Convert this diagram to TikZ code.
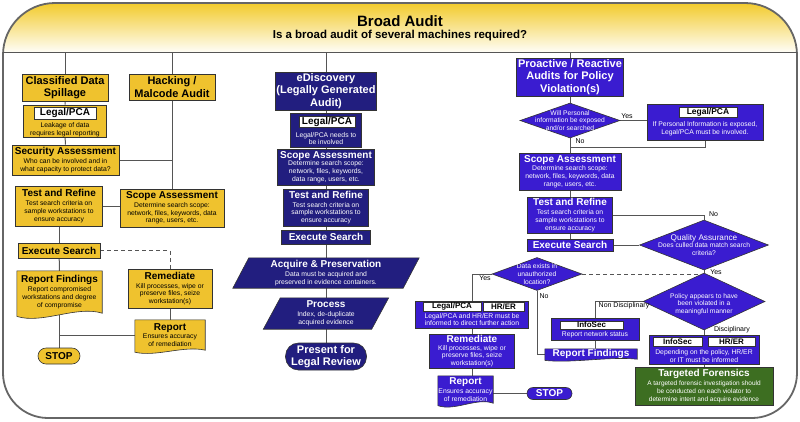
\documentclass[tikz,border=0pt]{standalone}
\usepackage{fontspec}
\setmainfont{Liberation Sans}
\usetikzlibrary{shapes.geometric, calc}
\definecolor{hdgold}{HTML}{F2CB2C}
\definecolor{spgold}{HTML}{EFC22E}
\definecolor{edblue}{HTML}{221E7F}
\definecolor{rpblue}{HTML}{3A1CD0}
\definecolor{tfgreen}{HTML}{3D6E21}
\definecolor{boxline}{HTML}{333333}
\definecolor{linkgray}{HTML}{555555}
\definecolor{framegray}{HTML}{666666}
\pgfdeclarelayer{links}
\pgfdeclarelayer{shapes}
\pgfsetlayers{links,shapes,main}

\newcommand{\ttl}[1]{{\fontsize{10}{11}\selectfont\bfseries #1}}
% document shape under a node: node, fill, wave depth
\newcommand{\docfill}[3]{%
  \filldraw[draw=boxline, line width=0.6pt, fill=#2] (#1.north west) -- (#1.north east) -- (#1.south east)
    .. controls ($(#1.south east)!0.3!(#1.south west)+(0,-#3)$) and ($(#1.south east)!0.7!(#1.south west)+(0,1.4*#3)$)
    .. ($(#1.south west)+(0,0.4*#3)$) -- cycle;}
% parallelogram under a node: node, slant, fill
\newcommand{\slantbox}[3]{%
  \filldraw[draw=boxline, line width=0.6pt, fill=#3] ($(#1.south west)+(-#2,0)$) -- ($(#1.south east)+(-#2,0)$)
    -- ($(#1.north east)+(#2,0)$) -- ($(#1.north west)+(#2,0)$) -- cycle;}

\begin{document}
\begin{tikzpicture}[x=1pt, y=-1pt,
  basebox/.style={draw=boxline, line width=0.6pt, align=center, inner sep=1pt},
  goldbox/.style={basebox, fill=spgold, text=black},
  navybox/.style={basebox, fill=edblue, text=white},
  bluebox/.style={basebox, fill=rpblue, text=white},
  greenbox/.style={basebox, fill=tfgreen, text=white},
  dia/.style={diamond, draw=boxline, line width=0.6pt, fill=rpblue, inner sep=0pt},
  dtext/.style={align=center, font=\fontsize{6.7}{7.6}\selectfont, text=white, inner sep=0pt},
  tag/.style={draw=boxline, line width=0.5pt, fill=white, text=black, inner sep=0pt,
    font=\bfseries\fontsize{#1}{12}\selectfont},
  sm/.style={align=center, font=\fontsize{6.8}{7.8}\selectfont},
  desc/.style={sm, inner sep=0pt},
  head/.style={font=\bfseries\fontsize{11}{12.3}\selectfont},
  ttlfont/.style={font=\bfseries\fontsize{10}{11}\selectfont},
  term/.style={rounded corners=#1},
  link/.style={draw=linkgray, line width=1pt},
  lbl/.style={font=\fontsize{7}{8}\selectfont, inner sep=1pt}]

\useasboundingbox (0,0) rectangle (800,421);

% Header band
\begin{pgfonlayer}{links}
\begin{scope}
  \clip (3,200) [rounded corners=52pt] -- (3,3) -- (797,3) -- (797,200) -- cycle;
  \shade[top color=hdgold, bottom color=hdgold!4] (3,3) rectangle (797,52);
\end{scope}
\end{pgfonlayer}
\draw[framegray, line width=1.8pt] (3,200) [rounded corners=52pt] -- (3,3) -- (797,3) -- (797,200)
  [rounded corners=45pt] -- (797,418) -- (3,418) -- cycle;
\draw[linkgray, line width=1pt] (3,52) -- (797,52);
\coordinate (bar) at (400,52);

% Title
\node[font=\bfseries\fontsize{15}{17}\selectfont] (title) at (400,21) {Broad Audit};
\node[font=\bfseries\fontsize{11.5}{13}\selectfont] (question) at (400,36) {Is a broad audit of several machines required?};

% Classified data / hacking column
\node[goldbox, head, minimum width=86pt, minimum height=27pt] (cds) at (65,87.5) {Classified Data\\Spillage};
\node[goldbox, head, minimum width=86pt, minimum height=26pt] (hma) at (172,87) {Hacking /\\Malcode Audit};
\node[goldbox, minimum width=83pt, minimum height=32pt] (lpc1) at (65,121) {};
\node[tag=10, minimum width=62pt, minimum height=12pt] (lpc1t) at (65,113) {Legal/PCA};
\node[desc] (lpc1d) at (65,129.5) {Leakage of data\\requires legal reporting};
\node[goldbox, sm, minimum width=107pt, minimum height=30pt] (sa1) at (65.5,160)
  {\ttl{Security Assessment}\\[1pt]Who can be involved and in\\what capacity to protect data?};
\node[goldbox, sm, minimum width=87pt, minimum height=40pt] (tr1) at (59,206)
  {\ttl{Test and Refine}\\[1pt]Test search criteria on\\sample workstations to\\ensure accuracy};
\node[goldbox, sm, minimum width=104pt, minimum height=38pt] (sc1) at (172,208)
  {\ttl{Scope Assessment}\\[1pt]Determine search scope:\\network, files, keywords, data\\range, users, etc.};
\node[goldbox, ttlfont, minimum width=82pt, minimum height=15pt] (es1) at (59,250.5) {Execute Search};
\node[desc, minimum width=85pt, minimum height=42pt] (rf1) at (59.5,292)
  {\ttl{Report Findings}\\[1pt]Report compromised\\workstations and degree\\of compromise};
\node[goldbox, ttlfont, term=8pt, minimum width=42pt, minimum height=16pt] (st1) at (59,356) {STOP};
\node[goldbox, sm, minimum width=84pt, minimum height=39pt] (rm1) at (170,288.5)
  {\ttl{Remediate}\\[1pt]Kill processes, wipe or\\preserve files, seize\\workstation(s)};
\node[desc, minimum width=70pt, minimum height=30pt] (rp1) at (170,335)
  {\ttl{Report}\\[1pt]Ensures accuracy\\of remediation};

% eDiscovery column
\node[navybox, head, minimum width=99pt, minimum height=38pt] (ed) at (326,91) {eDiscovery\\(Legally Generated\\Audit)};
\node[navybox, minimum width=71pt, minimum height=34pt] (lpc2) at (326,130) {};
\node[tag=10, minimum width=56pt, minimum height=11pt] (lpc2t) at (327,122) {Legal/PCA};
\node[desc, text=white] (lpc2d) at (326,138.5) {Legal/PCA needs to\\be involved};
\node[navybox, sm, minimum width=97pt, minimum height=36pt] (sc2) at (326,167)
  {\ttl{Scope Assessment}\\Determine search scope:\\network, files, keywords,\\data range, users, etc.};
\node[navybox, sm, minimum width=85pt, minimum height=37pt] (tr2) at (326,207.5)
  {\ttl{Test and Refine}\\[1pt]Test search criteria on\\sample workstations to\\ensure accuracy};
\node[navybox, ttlfont, minimum width=89pt, minimum height=14pt] (es2) at (326,237) {Execute Search};
\node[desc, text=white, minimum width=170pt, minimum height=30pt] (acq) at (326,273)
  {\ttl{Acquire \& Preservation}\\[1pt]Data must be acquired and\\preserved in evidence containers.};
\node[desc, text=white, minimum width=108pt, minimum height=31pt] (proc) at (326,313.5)
  {\ttl{Process}\\[1pt]Index, de-duplicate\\acquired evidence};
\node[navybox, head, term=13pt, minimum width=81pt, minimum height=27pt] (plr) at (326,356.5) {Present for\\Legal Review};

% Policy audit column
\node[bluebox, head, minimum width=107pt, minimum height=38pt] (par) at (570,77) {Proactive / Reactive\\Audits for Policy\\Violation(s)};
\node[dia, minimum width=100pt, minimum height=35pt] (dpi) at (570,120.5) {};
\node[dtext] (dpitx) at (dpi) {Will Personal\\information be exposed\\and/or searched};
\node[bluebox, minimum width=116pt, minimum height=36pt] (lpc3) at (705,122) {};
\node[tag=8.5, minimum width=58pt, minimum height=10pt] (lpc3t) at (708,112.5) {Legal/PCA};
\node[desc, text=white] (lpc3d) at (705,128.5) {If Personal Information is exposed,\\Legal/PCA must be involved.};
\node[bluebox, sm, minimum width=102pt, minimum height=37pt] (sc3) at (570,171.5)
  {\ttl{Scope Assessment}\\[1pt]Determine search scope:\\network, files, keywords, data\\range, users, etc.};
\node[bluebox, sm, minimum width=85pt, minimum height=36pt] (tr3) at (570,215)
  {\ttl{Test and Refine}\\[1pt]Test search criteria on\\sample workstations to\\ensure accuracy};
\node[bluebox, ttlfont, minimum width=86pt, minimum height=12pt, inner sep=0pt] (es3) at (570,245) {Execute Search};
\node[dia, minimum width=129pt, minimum height=50pt] (qa) at (704,245) {};
\node[dtext] (qatx) at (qa) {{\fontsize{8.2}{9}\selectfont Quality Assurance}\\Does culled data match search\\criteria?};
\node[dia, minimum width=122pt, minimum height=57pt] (pol) at (704,301.5) {};
\node[dtext] (poltx) at (704,304) {Policy appears to have\\been violated in a\\meaningful manner};
\node[dia, minimum width=90pt, minimum height=33pt] (dex) at (537,274) {};
\node[dtext] (dextx) at (dex) {Data exists in\\unauthorized\\location?};
\node[bluebox, minimum width=113pt, minimum height=27pt] (lhr) at (472,314.5) {};
\node[tag=8, minimum width=58pt, minimum height=9pt] (lhrt1) at (452,306.5) {Legal/PCA};
\node[tag=8, minimum width=41pt, minimum height=9pt] (lhrt2) at (503.5,306.5) {HR/ER};
\node[desc, text=white] (lhrd) at (472,319.5) {Legal/PCA and HR/ER must be\\informed to direct further action};
\node[bluebox, sm, minimum width=85pt, minimum height=34pt, inner sep=0pt] (rm3) at (472,351)
  {\ttl{Remediate}\\Kill processes, wipe or\\preserve files, seize\\workstation(s)};
\node[desc, text=white, minimum width=55pt, minimum height=27pt] (rp3) at (465.5,389.5)
  {\ttl{Report}\\[1pt]Ensures accuracy\\of remediation};
\node[bluebox, ttlfont, term=6pt, minimum width=45pt, minimum height=12pt, inner sep=0pt] (st3) at (549.5,393.5) {STOP};
\node[bluebox, minimum width=88pt, minimum height=22pt] (is1) at (595,329) {};
\node[tag=8, minimum width=63pt, minimum height=8pt] (is1t) at (591.5,325) {InfoSec};
\node[desc, text=white] (is1d) at (595,335) {Report network status};
\node[desc, text=white, minimum width=92pt, minimum height=10pt] (rf3) at (591,354) {\ttl{Report Findings}};
\node[bluebox, minimum width=110pt, minimum height=29pt] (ihr) at (704,349.5) {};
\node[tag=8, minimum width=49pt, minimum height=9pt] (ihrt1) at (677.5,341.5) {InfoSec};
\node[tag=8, minimum width=47pt, minimum height=9pt] (ihrt2) at (731.5,341.5) {HR/ER};
\node[desc, text=white] (ihrd) at (704,356) {Depending on the policy, HR/ER\\or IT must be informed};
\node[greenbox, font=\fontsize{6.5}{7.8}\selectfont, minimum width=138pt, minimum height=38pt] (tf) at (704,386)
  {\ttl{Targeted Forensics}\\[1pt]A targeted forensic investigation should\\be conducted on each violator to\\determine intent and acquire evidence};

% Labels
\node[lbl] (yes1) at (627,116) {Yes};
\node[lbl] (no1) at (580,141) {No};
\node[lbl] (no2) at (713.5,214) {No};
\node[lbl] (yes2) at (716,272) {Yes};
\node[lbl] (yes3) at (485,278) {Yes};
\node[lbl] (no3) at (544,296) {No};
\node[lbl] (nondisc) at (624,306) {Non Disciplinary};
\node[lbl] (disc) at (732,330) {Disciplinary};

% Odd shapes
\begin{pgfonlayer}{shapes}
\docfill{rf1}{spgold}{8}
\docfill{rp1}{spgold}{5}
\docfill{rp3}{rpblue}{6}
\docfill{rf3}{rpblue}{3}
\slantbox{acq}{8}{edblue}
\slantbox{proc}{8.5}{edblue}
\end{pgfonlayer}

% Connectors
\begin{pgfonlayer}{links}
\draw[link] (cds.north |- bar) -- (cds.north);
\draw[link] (hma.north |- bar) -- (hma.north);
\draw[link] (ed.north |- bar) -- (ed.north);
\draw[link] (par.north |- bar) -- (par.north);

\draw[link] (cds) -- (lpc1) -- (sa1);
\draw[link] (hma.south) -- (hma.south |- sc1.north);
\draw[link] (sa1.east) -- (sa1.east -| hma.south);
\draw[link] (tr1.east) -- (tr1.east -| sc1.west);
\draw[link] (tr1.south) -- (tr1.south |- es1.north);
\draw[link] (es1) -- (rf1.north);
\draw[link] (rf1.south) -- (rf1.south |- st1.north);
\draw[link] (rf1.south |- rp1.west) -- (rp1.west);
\draw[link, dash pattern=on 4pt off 3pt] (es1.east) -| (rm1.north);
\draw[link] (rm1) -- (rp1);

\draw[link] (ed) -- (lpc2) -- (sc2) -- (tr2) -- (es2) -- (acq) -- (proc) -- (plr);

\draw[link] (par) -- (dpi);
\draw[link] (dpi.east) -- (dpi.east -| lpc3.west);
\coordinate (join1) at (570,147);
\draw[link] (lpc3.south) |- (join1);
\draw[link] (dpi) -- (sc3) -- (tr3) -- (es3);
\draw[link] (tr3.east) -| (qa.north);
\draw[link] (es3) -- (qa);
\draw[link] (qa.south) -- (pol.north);
\draw[link, dash pattern=on 4pt off 3pt] (dex.east) -- (dex.east -| pol.north);
\draw[link] (dex.west) -| (lhr.north);
\draw[link] (dex.south) |- (rf3.west);
\draw[link] (lhr) -- (rm3);
\draw[link] (rm3.south) -- (rm3.south |- rp3.north);
\draw[link] (st3.west -| rp3.east) -- (st3.west);
\draw[link] (pol.west) -| (is1.north);
\draw[link] (is1.south) -- (is1.south |- rf3.north);
\draw[link] (pol.south) -- (ihr.north);
\draw[link] (ihr) -- (tf);
\end{pgfonlayer}

\end{tikzpicture}
\end{document}
